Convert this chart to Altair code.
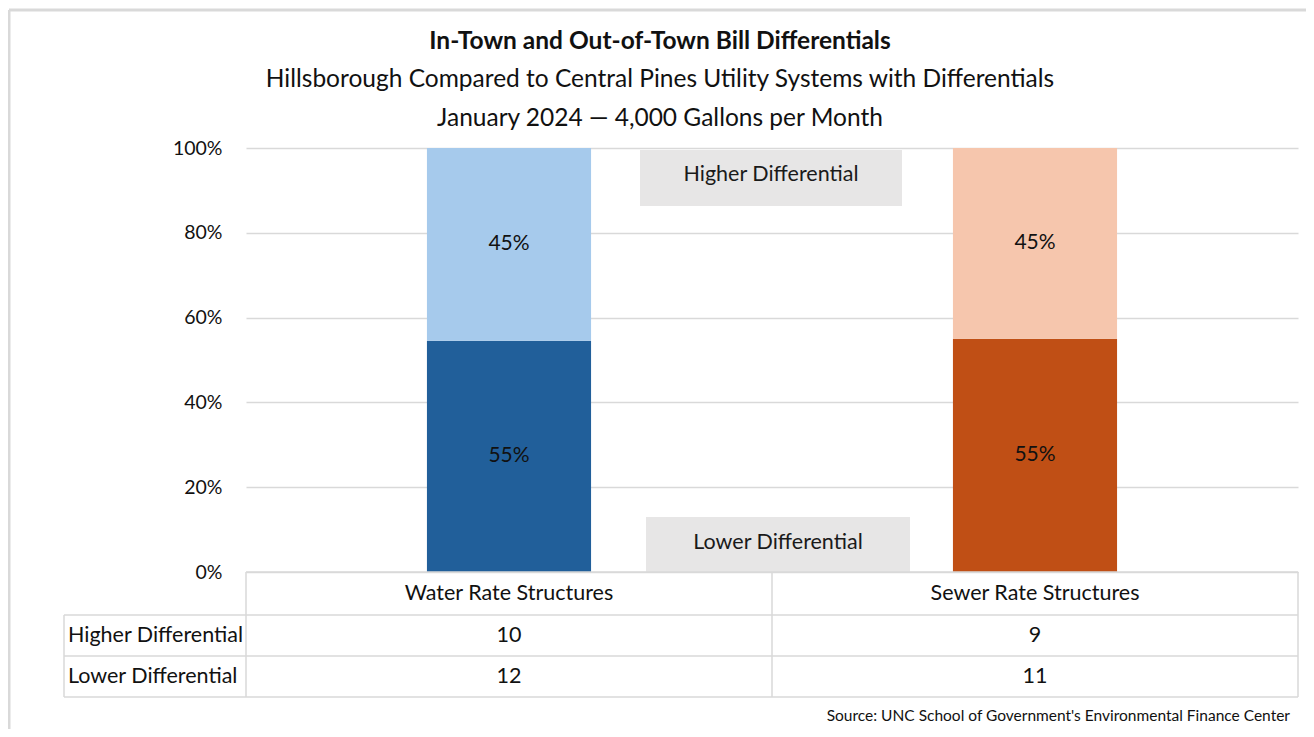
import altair as alt
import pandas as pd

# ---- data ----
categories = ["Water Rate Structures", "Sewer Rate Structures"]
short_names = ["Water", "Sewer"]
higher_counts = [10, 9]
lower_counts = [12, 11]
row_labels = ["Higher Differential", "Lower Differential"]
y_ticks = [0, 0.2, 0.4, 0.6, 0.8, 1.0]

title_text = "In-Town and Out-of-Town Bill Differentials"
subtitle_lines = [
    "Hillsborough Compared to Central Pines Utility Systems with Differentials",
    "January 2024 \u2014 4,000 Gallons per Month",
]
source_text = "Source: UNC School of Government's Environmental Finance Center"

color_keys = ["Water Lower", "Water Higher", "Sewer Lower", "Sewer Higher"]
color_values = ["#215F9A", "#A6CAEC", "#C04F15", "#F6C6AD"]

FONT = "Lato"
GRID = "#D9D9D9"
TXT = "#111111"

rows = []
for c, s, h, l in zip(categories, short_names, higher_counts, lower_counts):
    rows.append({"category": c, "level": "Lower Differential", "count": l, "key": s + " Lower", "rank": 0})
    rows.append({"category": c, "level": "Higher Differential", "count": h, "key": s + " Higher", "rank": 1})
df = pd.DataFrame(rows)
cat_df = pd.DataFrame({"category": categories})
one = pd.DataFrame({"a": [0]})

W, H = 1052, 424
TS = 21.5  # table / annotation font size

xenc = alt.X(
    "category:N",
    sort=categories,
    scale=alt.Scale(paddingInner=0.688, paddingOuter=0.344),
    axis=None,
)

yaxis = alt.Axis(
    values=y_ticks,
    format=".0%",
    title=None,
    domain=False,
    ticks=False,
    labelFontSize=19.5,
    labelFont=FONT,
    labelColor=TXT,
    labelPadding=24,
    gridColor=GRID,
    gridWidth=1.5,
)

bars = alt.Chart(df).mark_bar().encode(
    x=xenc,
    y=alt.Y("count:Q", stack="normalize", axis=yaxis),
    color=alt.Color("key:N", scale=alt.Scale(domain=color_keys, range=color_values), legend=None),
    order=alt.Order("rank:Q"),
)

labels = (
    alt.Chart(df)
    .transform_joinaggregate(total="sum(count)", groupby=["category"])
    .transform_calculate(
        pct="datum.count / datum.total",
        mid="datum.rank == 0 ? datum.pct / 2 : 1 - datum.pct / 2",
    )
    .mark_text(fontSize=21, font=FONT, color=TXT)
    .encode(x=xenc, y=alt.Y("mid:Q", axis=yaxis), text=alt.Text("pct:Q", format=".0%"))
)

# annotation boxes
def box(x1, x2, y1, y2, text, tx, ty):
    r = alt.Chart(one).mark_rect(color="#E7E6E6").encode(
        x=alt.value(x1), x2=alt.value(x2), y=alt.value(y1), y2=alt.value(y2)
    )
    t = alt.Chart(pd.DataFrame({"t": [text]})).mark_text(
        fontSize=TS, font=FONT, color="#1A1A1A"
    ).encode(text="t:N", x=alt.value(tx), y=alt.value(ty))
    return [r, t]

annot = box(394, 656, 2, 58, row_labels[0], 525, 27) + box(400, 664, 369, 424, row_labels[1], 532, 395)

# data table
def hline(y, x1, x2, w=1.5, color=GRID):
    return alt.Chart(one).mark_rule(color=color, strokeWidth=w).encode(
        x=alt.value(x1), x2=alt.value(x2), y=alt.value(y)
    )

def vline(x, y1, y2, w=1.5, color=GRID):
    return alt.Chart(one).mark_rule(color=color, strokeWidth=w).encode(
        x=alt.value(x), y=alt.value(y1), y2=alt.value(y2)
    )

table_lines = [
    hline(424, 0, W),
    hline(467, -182, W),
    hline(508, -182, W),
    hline(549, -182, W),
    vline(-182, 467, 549),
    vline(0, 424, 549),
    vline(W / 2, 424, 549),
    vline(W, 424, 549),
]

header = alt.Chart(cat_df).mark_text(fontSize=TS, font=FONT, color=TXT).encode(
    x=xenc, y=alt.value(446), text="category:N"
)
higher_vals = alt.Chart(df).transform_filter("datum.rank == 1").mark_text(
    fontSize=TS, font=FONT, color=TXT
).encode(x=xenc, y=alt.value(488), text="count:Q")
lower_vals = alt.Chart(df).transform_filter("datum.rank == 0").mark_text(
    fontSize=TS, font=FONT, color=TXT
).encode(x=xenc, y=alt.value(529), text="count:Q")

row_label_marks = [
    alt.Chart(pd.DataFrame({"t": [row_labels[0]]})).mark_text(
        fontSize=TS, font=FONT, color=TXT, align="left"
    ).encode(x=alt.value(-178), y=alt.value(488), text="t:N"),
    alt.Chart(pd.DataFrame({"t": [row_labels[1]]})).mark_text(
        fontSize=TS, font=FONT, color=TXT, align="left"
    ).encode(x=alt.value(-178), y=alt.value(529), text="t:N"),
]

# titles and source
titles = [
    alt.Chart(pd.DataFrame({"t": [title_text]})).mark_text(
        fontSize=24.5, font=FONT, fontWeight="bold", color=TXT
    ).encode(x=alt.value(414), y=alt.value(-106), text="t:N"),
    alt.Chart(pd.DataFrame({"t": [subtitle_lines[0]]})).mark_text(
        fontSize=24.5, font=FONT, color=TXT
    ).encode(x=alt.value(414), y=alt.value(-68), text="t:N"),
    alt.Chart(pd.DataFrame({"t": [subtitle_lines[1]]})).mark_text(
        fontSize=24.5, font=FONT, color=TXT
    ).encode(x=alt.value(414), y=alt.value(-29), text="t:N"),
    alt.Chart(pd.DataFrame({"t": [source_text]})).mark_text(
        fontSize=15.5, font=FONT, color=TXT, align="right"
    ).encode(x=alt.value(1044), y=alt.value(568), text="t:N"),
]

border = [
    hline(-138, -237, 1060, w=3),
    vline(-237, -138, 589, w=3),
]

chart = alt.layer(
    *border, *annot, bars, labels, *table_lines, header, higher_vals, lower_vals,
    *row_label_marks, *titles
).properties(
    width=W,
    height=H,
    padding={"left": 238, "top": 140, "right": 8, "bottom": 157},
    autosize=alt.AutoSizeParams(type="none"),
    background="white",
).configure_view(stroke=None)

chart.save("out.html", embed_options={"renderer": "svg", "actions": False})
